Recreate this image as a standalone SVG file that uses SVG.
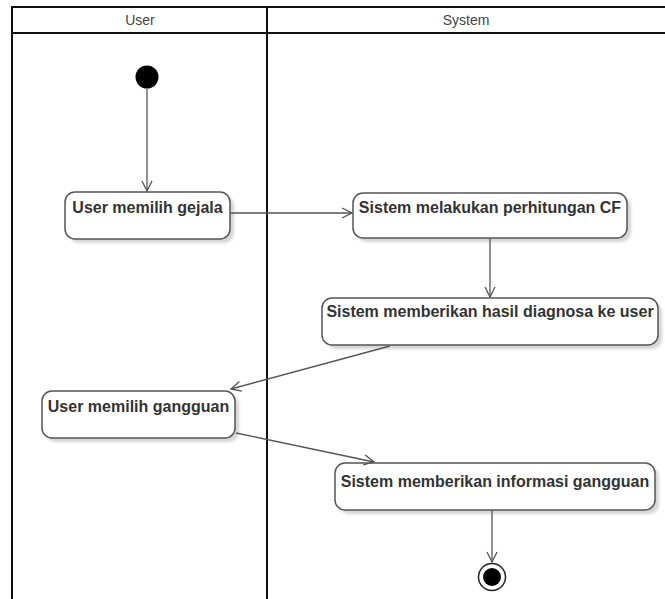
<svg xmlns="http://www.w3.org/2000/svg" width="665" height="599" viewBox="0 0 665 599">
<style>
.lane{stroke:#111;stroke-width:2;fill:none}
.hdr{font-family:"Liberation Sans",Arial,sans-serif;font-size:14px;fill:#444;text-anchor:middle}
.box{fill:#fff;stroke:#555;stroke-width:1.5}
.shadow{fill:#d4d4d4;filter:url(#blur)}
.lbl{font-family:"Liberation Sans",Arial,sans-serif;font-size:16px;font-weight:bold;fill:#333;text-anchor:middle}
.edge{stroke:#555;stroke-width:1.3;fill:none;marker-end:url(#arr)}
</style>
<defs>
<filter id="blur" x="-10%" y="-20%" width="120%" height="140%"><feGaussianBlur stdDeviation="1.5"/></filter>
<marker id="arr" markerWidth="12" markerHeight="12" refX="11" refY="6" orient="auto" markerUnits="userSpaceOnUse">
<path d="M1,1 L11,6 L1,11" fill="none" stroke="#555" stroke-width="1.3"/>
</marker>
</defs>
<rect width="665" height="599" fill="#fff"/>
<g id="swimlanes">
<line class="lane" x1="12" y1="7" x2="665" y2="7"/>
<line class="lane" x1="12" y1="33" x2="665" y2="33"/>
<line class="lane" x1="12" y1="6" x2="12" y2="599"/>
<line class="lane" x1="267" y1="7" x2="267" y2="599"/>
<text class="hdr" x="140" y="25">User</text>
<text class="hdr" x="466" y="25">System</text>
</g>
<g id="start"><circle cx="147" cy="77" r="11.5" fill="#000"/></g>
<g id="n1">
<rect class="shadow" x="69" y="196" width="165" height="47" rx="10"/>
<rect class="box" x="65" y="192" width="165" height="47" rx="10"/>
<text class="lbl" x="147.5" y="213">User memilih gejala</text>
</g>
<g id="n2">
<rect class="shadow" x="357" y="197" width="274" height="45" rx="10"/>
<rect class="box" x="353" y="193" width="274" height="45" rx="10"/>
<text class="lbl" x="490" y="213">Sistem melakukan perhitungan CF</text>
</g>
<g id="n3">
<rect class="shadow" x="326" y="302" width="336" height="47" rx="10"/>
<rect class="box" x="322" y="298" width="336" height="47" rx="10"/>
<text class="lbl" x="490" y="317">Sistem memberikan hasil diagnosa ke user</text>
</g>
<g id="n4">
<rect class="shadow" x="46" y="395" width="193" height="47" rx="10"/>
<rect class="box" x="42" y="391" width="193" height="47" rx="10"/>
<text class="lbl" x="138.5" y="412">User memilih gangguan</text>
</g>
<g id="n5">
<rect class="shadow" x="339" y="467" width="320" height="47" rx="10"/>
<rect class="box" x="335" y="463" width="320" height="47" rx="10"/>
<text class="lbl" x="495" y="487">Sistem memberikan informasi gangguan</text>
</g>
<g id="end">
<circle cx="492" cy="577" r="13.5" fill="#fff" stroke="#222" stroke-width="1.5"/>
<circle cx="492" cy="577" r="9" fill="#000"/>
</g>
<g id="connectors">
<line class="edge" x1="147" y1="89" x2="147" y2="191"/>
<line class="edge" x1="230" y1="213" x2="352" y2="213"/>
<line class="edge" x1="490" y1="238" x2="490" y2="297"/>
<line class="edge" x1="390" y1="346" x2="231" y2="389"/>
<line class="edge" x1="236" y1="433" x2="374" y2="462"/>
<line class="edge" x1="492" y1="510" x2="492" y2="562"/>
</g>
</svg>
